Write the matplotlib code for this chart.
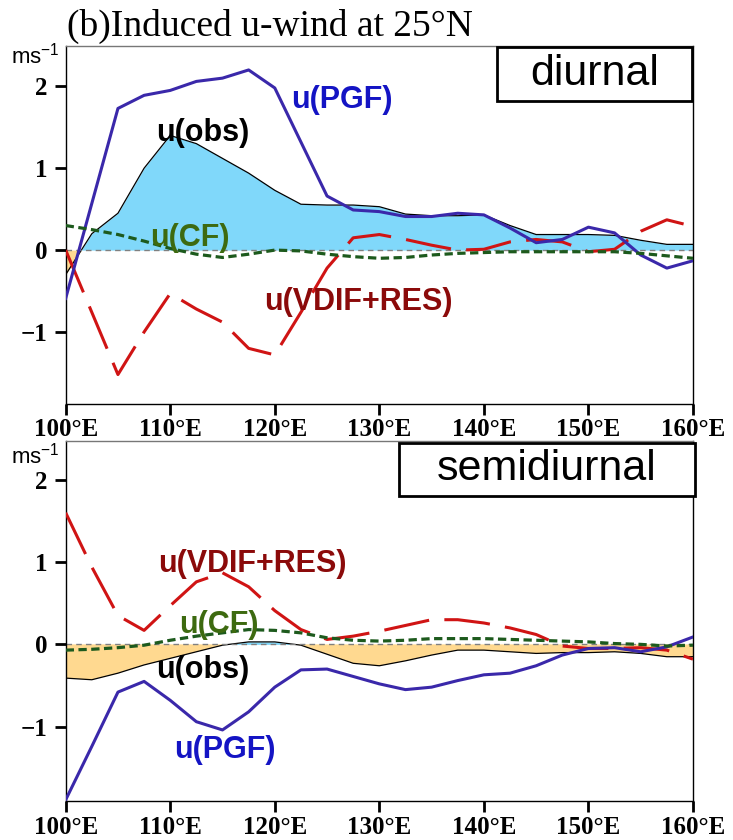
import numpy as np
import matplotlib.pyplot as plt
from matplotlib.patches import Rectangle

plt.rcParams['mathtext.fontset'] = 'custom'
plt.rcParams['mathtext.rm'] = 'Liberation Sans'
plt.rcParams['mathtext.it'] = 'Liberation Sans:italic'

# longitude grid (deg E)
lon = [100, 102.5, 105, 107.5, 110, 112.5, 115, 117.5, 120, 122.5, 125, 127.5,
       130, 132.5, 135, 137.5, 140, 142.5, 145, 147.5, 150, 152.5, 155, 157.5, 160]

# diurnal component (m/s)
obs_d = [-0.30, 0.20, 0.45, 1.00, 1.40, 1.30, 1.12, 0.94, 0.73, 0.56, 0.55, 0.55,
         0.53, 0.44, 0.42, 0.42, 0.43, 0.30, 0.19, 0.19, 0.19, 0.18, 0.12, 0.07, 0.07]
pgf_d = [-0.59, 0.57, 1.73, 1.89, 1.95, 2.06, 2.10, 2.20, 1.98, 1.32, 0.66, 0.49,
         0.47, 0.41, 0.41, 0.45, 0.43, 0.27, 0.09, 0.13, 0.28, 0.21, -0.06, -0.22, -0.13]
cf_d = [0.30, 0.25, 0.19, 0.11, 0.02, -0.05, -0.09, -0.05, 0.00, -0.01, -0.05, -0.08,
        -0.10, -0.09, -0.06, -0.04, -0.03, -0.02, -0.02, -0.02, -0.02, -0.02, -0.04, -0.07, -0.10]
vdif_d = [0.00, -0.76, -1.52, -1.00, -0.53, -0.72, -0.88, -1.20, -1.28, -0.76, -0.22, 0.15,
          0.19, 0.13, 0.06, 0.00, 0.01, 0.10, 0.13, 0.10, -0.02, 0.01, 0.23, 0.37, 0.29]

# semidiurnal component (m/s)
obs_s = [-0.41, -0.43, -0.35, -0.25, -0.17, -0.09, -0.01, 0.03, 0.03, -0.01, -0.12, -0.23,
         -0.26, -0.20, -0.13, -0.07, -0.07, -0.09, -0.11, -0.10, -0.10, -0.09, -0.11, -0.15, -0.15]
pgf_s = [-1.89, -1.24, -0.58, -0.45, -0.68, -0.94, -1.04, -0.82, -0.52, -0.31, -0.30, -0.39,
         -0.48, -0.55, -0.52, -0.44, -0.37, -0.35, -0.26, -0.13, -0.05, -0.04, -0.09, -0.03, 0.09]
cf_s = [-0.07, -0.06, -0.04, -0.01, 0.05, 0.10, 0.14, 0.18, 0.17, 0.14, 0.08, 0.05,
        0.04, 0.05, 0.07, 0.07, 0.07, 0.06, 0.05, 0.04, 0.03, 0.01, 0.00, -0.02, -0.01]
vdif_s = [1.60, 0.94, 0.35, 0.17, 0.47, 0.76, 0.87, 0.70, 0.41, 0.18, 0.06, 0.10,
          0.16, 0.23, 0.30, 0.30, 0.26, 0.20, 0.12, -0.02, -0.05, -0.05, -0.04, -0.07, -0.18]

xticks = [100, 110, 120, 130, 140, 150, 160]
xticklabels = ['100°E', '110°E', '120°E', '130°E', '140°E', '150°E', '160°E']
yticks = [-1, 0, 1, 2]
yticklabels = ['\u22121', '0', '1', '2']

c_pgf = '#3a28aa'
c_vdif = '#d01414'
c_cf = '#1d5a1d'
tick_font = dict(family='Liberation Serif', weight='bold', size=18)
lab_font = dict(family='Liberation Sans', weight='bold', size=22)

fig = plt.figure(figsize=(7.33, 8.4), dpi=100)
ax1 = fig.add_axes([0.0896, 0.519, 0.8558, 0.426])
ax2 = fig.add_axes([0.0896, 0.0468, 0.8558, 0.428])


def draw_panel(ax, obs, pgf, cf, vdif, ylim, name, box, unit_y, xpad):
    x = np.array(lon)
    o = np.array(obs)
    ax.fill_between(x, o, 0, where=o >= 0, interpolate=True, color='#80d8fa', lw=0, zorder=1)
    ax.fill_between(x, o, 0, where=o <= 0, interpolate=True, color='#ffd990', lw=0, zorder=1)
    ax.plot(x, o, color='black', lw=0.9, zorder=2)
    ax.axhline(0, color='grey', lw=1.0, ls=(0, (4, 3)), zorder=2)
    ax.plot(x, pgf, color=c_pgf, lw=2.2, zorder=4)
    ax.plot(x, vdif, color=c_vdif, lw=2.2, dashes=(15, 5), zorder=3)
    ax.plot(x, cf, color=c_cf, lw=2.3, dashes=(2.6, 1.4), zorder=5)

    ax.set_xlim(100, 160)
    ax.set_ylim(*ylim)
    ax.set_xticks(xticks)
    ax.set_xticklabels(xticklabels, fontdict=tick_font)
    ax.set_yticks(yticks)
    ax.set_yticklabels(yticklabels, fontdict=tick_font)
    ax.tick_params(axis='both', direction='out', length=8, width=2, color='black')
    ax.tick_params(axis='x', pad=xpad)
    ax.tick_params(axis='y', pad=5)
    for s in ax.spines.values():
        s.set_linewidth(1.0)
    ax.spines['top'].set_color('#777777')

    ax.text(-0.009, unit_y, 'ms$^{-1}$', transform=ax.transAxes,
            ha='right', va='baseline', fontsize=16, family='Liberation Sans')

    bx0, by0, bx1, by1 = box
    ax.add_patch(Rectangle((bx0, by0), bx1 - bx0, by1 - by0, transform=ax.transAxes,
                           facecolor='white', edgecolor='black', lw=2.0, zorder=10,
                           clip_on=False))
    ax.text((bx0 + bx1) / 2, (by0 + by1) / 2, name, transform=ax.transAxes,
            ha='center', va='center', fontsize=31, family='Liberation Sans', zorder=11)


draw_panel(ax1, obs_d, pgf_d, cf_d, vdif_d, (-1.88, 2.49), 'diurnal',
           (0.688, 0.846, 0.999, 0.997), 0.953, 2)
draw_panel(ax2, obs_s, pgf_s, cf_s, vdif_s, (-1.90, 2.47), 'semidiurnal',
           (0.532, 0.848, 1.003, 0.996), 0.939, 3)

# curve labels, top panel
ax1.text(126.4, 1.83, 'u(PGF)', color='#1414c4', ha='center', va='center', **lab_font, zorder=6)
ax1.text(113.1, 1.43, 'u(obs)', color='black', ha='center', va='center', **lab_font, zorder=6)
ax1.text(111.9, 0.15, 'u(CF)', color='#3d6a10', ha='center', va='center', **lab_font, zorder=6)
ax1.text(128.0, -0.63, 'u(VDIF+RES)', color='#8b0a0a', ha='center', va='center', **lab_font, zorder=6)

# curve labels, bottom panel
ax2.text(117.9, 0.98, 'u(VDIF+RES)', color='#8b0a0a', ha='center', va='center', **lab_font, zorder=6)
ax2.text(114.7, 0.23, 'u(CF)', color='#3d6a10', ha='center', va='center', **lab_font, zorder=6)
ax2.text(113.1, -0.31, 'u(obs)', color='black', ha='center', va='center', **lab_font, zorder=6)
ax2.text(115.2, -1.28, 'u(PGF)', color='#1414c4', ha='center', va='center', **lab_font, zorder=6)

ax1.text(0.002, 1.028, '(b)Induced u-wind at 25°N', transform=ax1.transAxes,
         ha='left', va='baseline', fontsize=27, family='Liberation Serif')

fig.savefig('out.png', dpi=100)
